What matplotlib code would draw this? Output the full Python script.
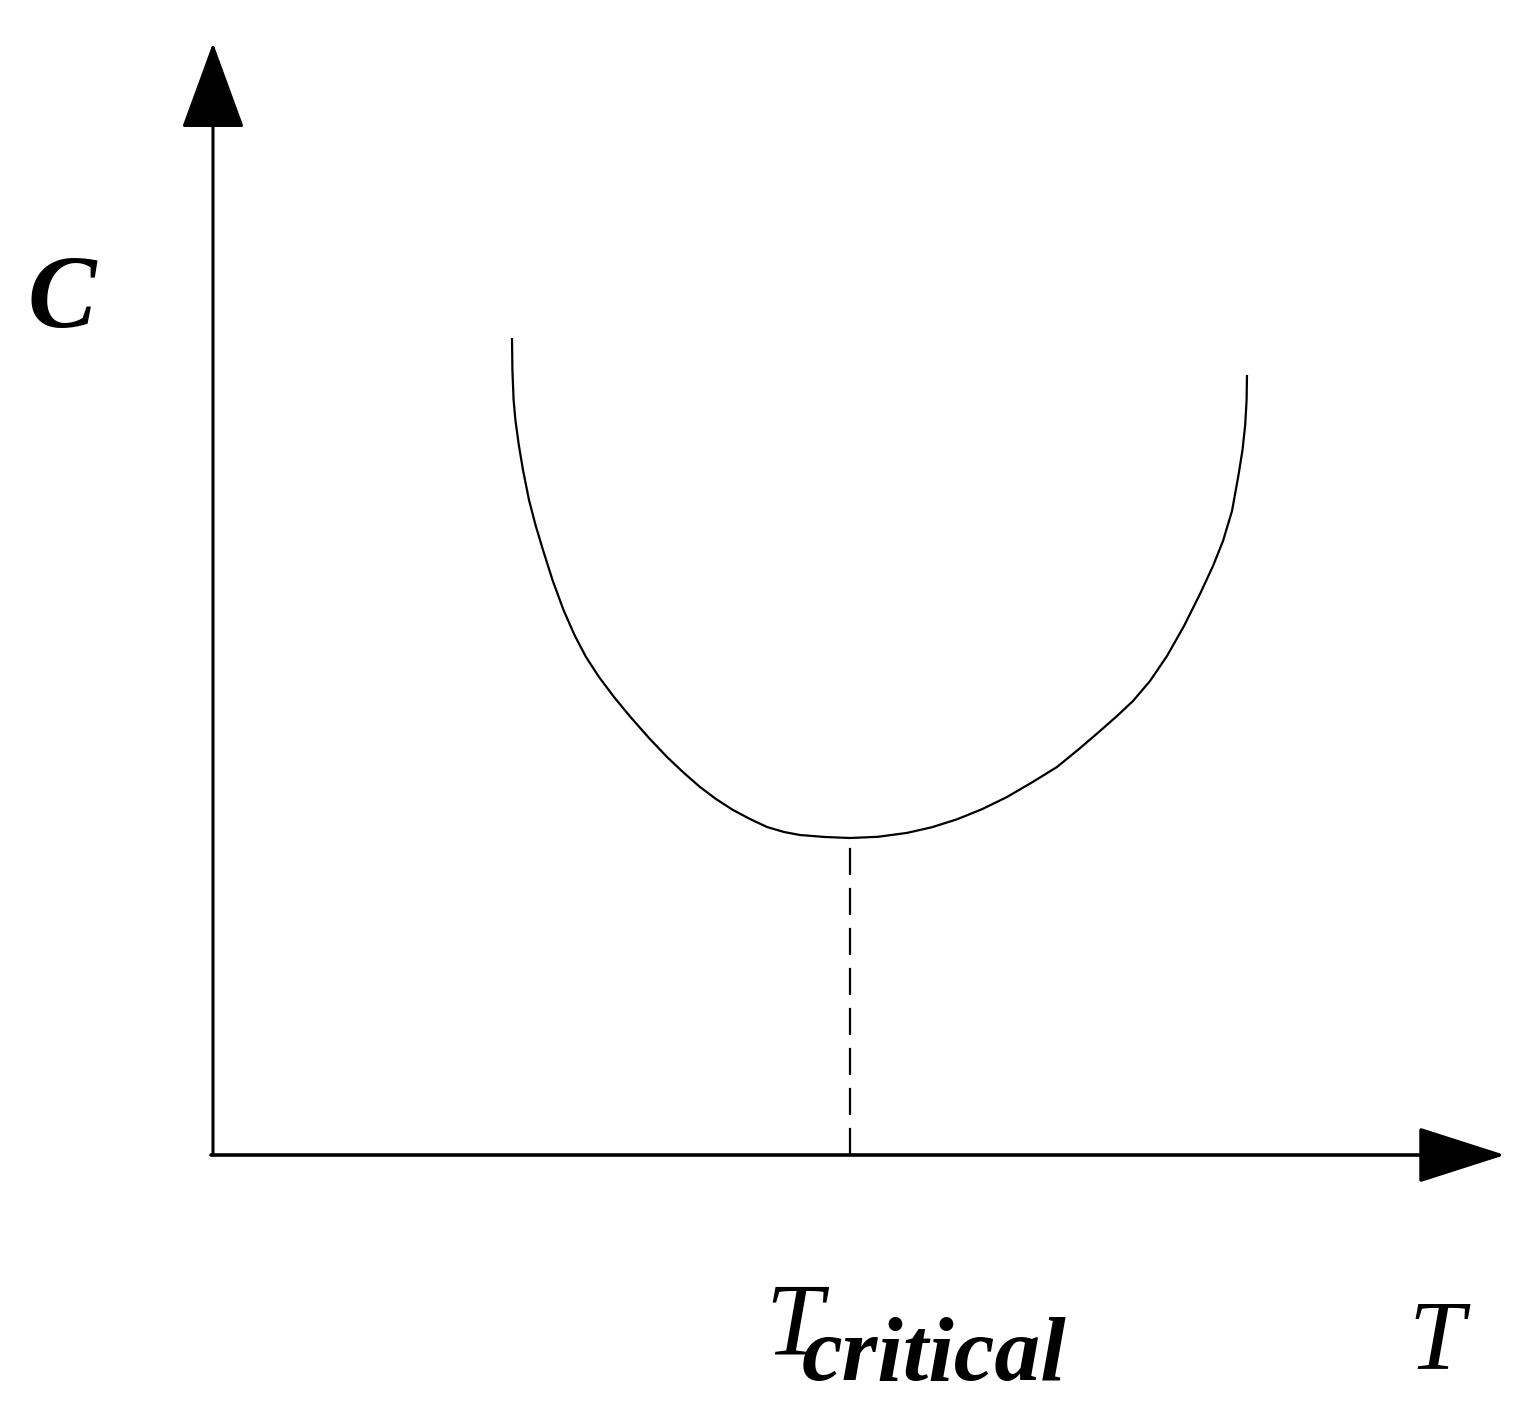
import numpy as np
import matplotlib
matplotlib.use('Agg')
import matplotlib.pyplot as plt

# curve (arbitrary units, origin at the axes corner)
T = [2.990, 2.994, 3.006, 3.024, 3.058, 3.100, 3.160, 3.225, 3.300, 3.395, 3.505,
     3.615, 3.730, 3.860, 4.010, 4.175, 4.360, 4.540, 4.710, 4.870, 5.030, 5.200,
     5.370, 5.540, 5.710, 5.870, 6.120, 6.370,
     6.650, 6.940, 7.190, 7.440, 7.690, 7.940, 8.190, 8.440, 8.660, 8.870, 9.040,
     9.200, 9.370, 9.540, 9.710, 9.870, 10.000, 10.100, 10.190, 10.255, 10.295,
     10.322, 10.336, 10.340]
C = [8.170, 7.850, 7.550, 7.350, 7.100, 6.850, 6.550, 6.300, 6.050, 5.750, 5.450,
     5.200, 4.980, 4.780, 4.580, 4.380, 4.170, 3.980, 3.820, 3.680, 3.560, 3.450,
     3.360, 3.280, 3.230, 3.200, 3.180, 3.170,
     3.182, 3.221, 3.278, 3.357, 3.458, 3.580, 3.726, 3.880, 4.060, 4.240, 4.390,
     4.540, 4.740, 4.990, 5.290, 5.610, 5.890, 6.140, 6.440, 6.800, 7.050,
     7.300, 7.550, 7.800]
T_crit = 6.37
T_max = 12.92
C_max = 11.12

fig = plt.figure(figsize=(15.4, 14.16), dpi=100)
ax = fig.add_axes([0, 0, 1, 1])
ax.set_xlim(-2.13, 13.27)
ax.set_ylim(-2.61, 11.55)
ax.axis('off')

# axes with arrow heads
ax.annotate('', xy=(0, C_max), xytext=(0, 0),
            arrowprops=dict(arrowstyle='-|>,head_length=0.78,head_width=0.285',
                            mutation_scale=72, lw=2.2, color='black',
                            shrinkA=0, shrinkB=0))
ax.annotate('', xy=(T_max, 0), xytext=(-0.02, 0),
            arrowprops=dict(arrowstyle='-|>,head_length=0.78,head_width=0.25',
                            mutation_scale=72, lw=2.6, color='black',
                            shrinkA=0, shrinkB=0))

# curve and dashed drop line to the minimum
ax.plot(T, C, color='black', lw=1.6, solid_joinstyle='round', solid_capstyle='butt')
i_min = int(np.argmin(C))
ax.plot([T_crit, T_crit], [0, C[i_min]], color='black', lw=1.6,
        ls=(0, (12.2, 5.8)))

# labels
fig.text(27/1540, 1 - 327/1416, 'C', fontsize=74, ha='left', va='baseline',
         family='Liberation Serif', style='italic', weight='bold', color='black')
fig.text(765/1540, 1 - 1355/1416, 'T', fontsize=74, ha='left', va='baseline',
         family='Liberation Serif', style='italic', color='black')
fig.text(802/1540, 1 - 1380/1416, 'critical', fontsize=66, ha='left', va='baseline',
         family='Liberation Serif', style='italic', weight='bold', color='black')
fig.text(1408/1540, 1 - 1368/1416, 'T', fontsize=72, ha='left', va='baseline',
         family='Liberation Serif', style='italic', color='black')

fig.savefig('out.png', dpi=100, facecolor='white')
